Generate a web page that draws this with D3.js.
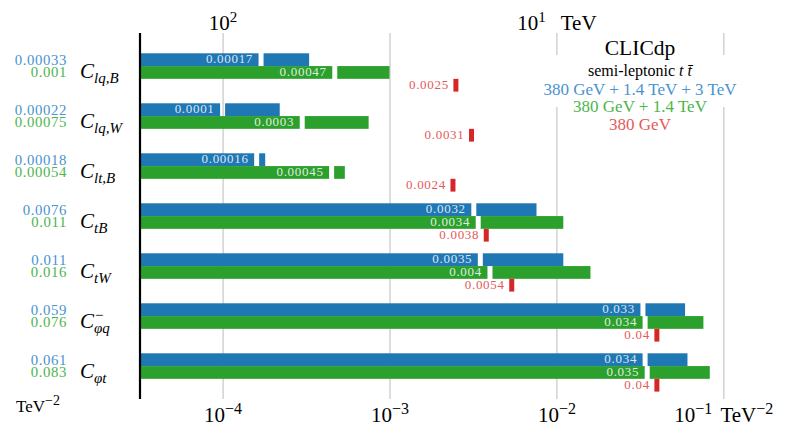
<!DOCTYPE html>
<html><head><meta charset="utf-8">
<script src="https://cdn.jsdelivr.net/npm/d3@7"></script>
<style>
body{margin:0;background:#fff}
svg{display:block}
text{font-family:"Liberation Serif","Times New Roman",serif}
</style>
</head><body>
<svg id="c" width="798" height="427"></svg>
<script>
// ---- data ----
const categories = ["Clq,B","Clq,W","Clt,B","CtB","CtW","Cφq−","Cφt"];
const labelSub   = ["lq,B","lq,W","lt,B","tB","tW","φq","φt"];
const labelSup   = ["","","","","","−",""];
const blueOuter  = [0.00033,0.00022,0.00018,0.0076,0.011,0.059,0.061];
const blueInner  = [0.00017,0.0001,0.00016,0.0032,0.0035,0.033,0.034];
const greenOuter = [0.001,0.00075,0.00054,0.011,0.016,0.076,0.083];
const greenInner = [0.00047,0.0003,0.00045,0.0034,0.004,0.034,0.035];
const redVals    = [0.0025,0.0031,0.0024,0.0038,0.0054,0.04,0.04];
const bottomTicks = [1e-4,1e-3,1e-2,1e-1];
const bottomExp   = ["−4","−3","−2","−1"];
const topTicks    = [100,10];
const topExp      = ["2","1"];
const legendLines = ["380 GeV + 1.4 TeV + 3 TeV","380 GeV + 1.4 TeV","380 GeV"];

const colBar  = {b:"#1f77b4", g:"#2ca02c", r:"#d62728"};
const colText = {b:"#4a93cf", g:"#4cb54c", r:"#e35a5a"};

const svg = d3.select("#c");
const yTop = 33, yBot = 399, xL = 140, xR = 723.3;
const x = d3.scaleLog().domain([3.2e-5, 0.1]).range([xL, xR]);
const xTop = d3.scaleLog().domain([1/Math.sqrt(3.2e-5), 1/Math.sqrt(0.1)]).range([xL, xR]);
const y = d3.scaleBand().domain(categories).range([33, 411.9]).paddingInner(0.234).paddingOuter(0.406);
const ys = d3.scaleBand().domain(["b","g","r"]).range([0, y.bandwidth()]);

// ---- grid ----
svg.append("g").attr("transform", `translate(0,${yBot})`)
  .call(d3.axisBottom(x).tickValues(bottomTicks).tickSize(-(yBot - yTop)).tickFormat(""))
  .call(g => g.select(".domain").remove())
  .call(g => g.selectAll(".tick line").attr("stroke", "#cbcbcb").attr("stroke-width", 1.3));

// legend background box
svg.append("rect").attr("x", 530).attr("y", 55).attr("width", 222).attr("height", 52).attr("fill", "#fff");

// ---- bars ----
const rows = categories.map((c, i) => ({c, i}));
const gap = 5;
function twoPart(key, inner, outer) {
  const g = svg.append("g");
  rows.forEach(r => {
    const y0 = y(r.c) + ys(key), h = ys.bandwidth();
    const xi = x(inner[r.i]), xo = x(outer[r.i]);
    g.append("rect").attr("x", xL).attr("y", y0).attr("width", xi - gap/2 - xL).attr("height", h).attr("fill", colBar[key]);
    g.append("rect").attr("x", xi + gap/2).attr("y", y0).attr("width", Math.max(0, xo - xi - gap/2)).attr("height", h).attr("fill", colBar[key]);
    g.append("text").attr("x", xi - 8).attr("y", y0 + h/2 + 3.6).attr("text-anchor", "end")
      .attr("font-size", 13).attr("letter-spacing", 0.7).attr("fill", "rgba(255,255,255,0.85)")
      .text(String(inner[r.i]));
  });
}
twoPart("b", blueInner, blueOuter);
twoPart("g", greenInner, greenOuter);

const gr = svg.append("g");
rows.forEach(r => {
  const y0 = y(r.c) + ys("r"), h = ys.bandwidth(), xv = x(redVals[r.i]);
  gr.append("rect").attr("x", xv - 2.5).attr("y", y0).attr("width", 5).attr("height", h).attr("fill", colBar.r);
  gr.append("text").attr("x", xv - 7).attr("y", y0 + h/2 + 3.6).attr("text-anchor", "end")
    .attr("font-size", 13).attr("letter-spacing", 0.7).attr("fill", colText.r)
    .text(String(redVals[r.i]));
});

// ---- left axis line ----
svg.append("line").attr("x1", xL).attr("x2", xL).attr("y1", yTop).attr("y2", yBot).attr("stroke", "#000").attr("stroke-width", 2.2);

// ---- left labels ----
rows.forEach(r => {
  const t = y(r.c);
  svg.append("text").attr("x", 67).attr("y", t + 11.2).attr("text-anchor", "end").attr("font-size", 14.8)
    .attr("letter-spacing", 0.6).attr("fill", colText.b).text(String(blueOuter[r.i]));
  svg.append("text").attr("x", 67).attr("y", t + 23.6).attr("text-anchor", "end").attr("font-size", 14.8)
    .attr("letter-spacing", 0.6).attr("fill", colText.g).text(String(greenOuter[r.i]));
  const C = svg.append("text").attr("x", 80).attr("y", t + 25).attr("font-size", 21).attr("font-style", "italic").text("C");
  const cw = C.node().getComputedTextLength();
  svg.append("text").attr("x", 80 + cw).attr("y", t + 30).attr("font-size", 15).attr("font-style", "italic").text(labelSub[r.i]);
  if (labelSup[r.i]) svg.append("text").attr("x", 80 + cw + 1).attr("y", t + 16.5).attr("font-size", 15).text(labelSup[r.i]);
});

// ---- bottom axis labels ----
const bx = svg.append("g").attr("transform", `translate(0,${yBot})`)
  .call(d3.axisBottom(x).tickValues(bottomTicks).tickSize(0));
bx.select(".domain").remove();
bx.selectAll(".tick text").each(function(d, i) {
  const t = d3.select(this).attr("y", 23).attr("dy", null).attr("font-size", 21).attr("fill", "#000").text(null);
  t.append("tspan").text("10");
  t.append("tspan").attr("dy", -8).attr("font-size", 16).text(bottomExp[i]);
  if (i === bottomTicks.length - 1) {
    t.append("tspan").attr("dy", 8).attr("dx", 8).text("TeV");
    t.append("tspan").attr("dy", -8).attr("font-size", 16).text("−2");
  }
});

// ---- top axis labels ----
const tx = svg.append("g").attr("transform", `translate(0,${yTop})`)
  .call(d3.axisTop(xTop).tickValues(topTicks).tickSize(0));
tx.select(".domain").remove();
tx.selectAll(".tick text").each(function(d, i) {
  const t = d3.select(this).attr("y", -3).attr("dy", null).attr("font-size", 21).attr("fill", "#000").text(null);
  t.append("tspan").text("10");
  t.append("tspan").attr("dy", -8).attr("font-size", 15).text(topExp[i]);
  if (i === 1) t.append("tspan").attr("dy", 8).attr("dx", 15).text("TeV");
});

// bottom-left unit
const u = svg.append("text").attr("x", 16).attr("y", 411.5).attr("font-size", 17).attr("fill", "#000");
u.append("tspan").text("TeV");
u.append("tspan").attr("dy", -7).attr("font-size", 14).text("−2");

// ---- legend ----
const lx = 640;
svg.append("text").attr("x", lx).attr("y", 55).attr("text-anchor", "middle").attr("font-size", 21.5).text("CLICdp");
const sl = svg.append("text").attr("x", lx).attr("y", 76).attr("text-anchor", "middle").attr("font-size", 16);
sl.append("tspan").text("semi-leptonic ");
sl.append("tspan").attr("font-style", "italic").text("t t\u0304");
[["b",95],["g",112.3],["r",130]].forEach(([k, yy], i) => {
  svg.append("text").attr("x", lx).attr("y", yy).attr("text-anchor", "middle").attr("font-size", 17)
    .attr("fill", colText[k]).text(legendLines[i]);
});
</script>
</body></html>
